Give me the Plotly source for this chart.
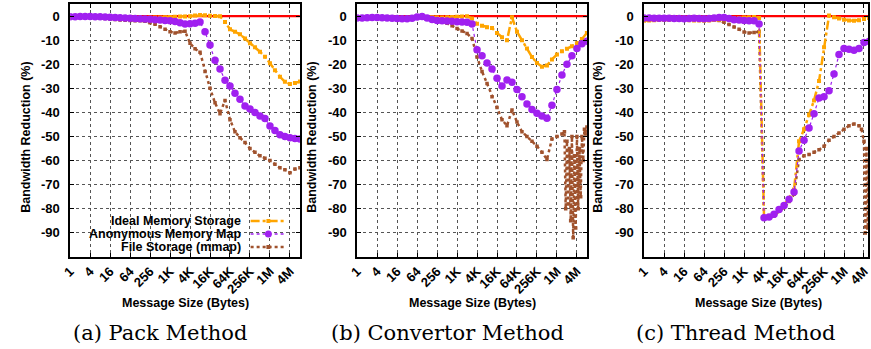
import plotly.graph_objects as go

# ---------------- data (log2 of message size in bytes) ----------------
msg_exp = [0, 0.5, 1, 1.5, 2, 2.5, 3, 3.5, 4, 4.5, 5, 5.5, 6, 6.5, 7, 7.5, 8, 8.5, 9, 9.5,
           10, 10.5, 11, 11.5, 12, 12.5, 13, 13.5, 14, 14.5, 15, 15.5, 16, 16.5, 17, 17.5,
           18, 18.5, 19, 19.5, 20, 20.5, 21, 21.5, 22, 22.5, 23]

pack_ideal = [-0.8, -0.6, -0.5, -0.5, -0.4, -0.5, -0.6, -0.7, -0.8, -0.9,
              -1.0, -1.0, -1.0, -0.9, -0.8, -0.8, -0.7, -0.6, -0.6, -0.5,
              -0.4, -0.3, -0.2, -0.2, -0.1, 0.2, 0.4, 0.3, 0.1, 0.0,
              -0.1, -2.5, -5.5, -6.5, -7.6, -9.3, -11.3, -13.0, -14.8, -16.9,
              -19.6, -22.5, -25.2, -27.3, -28.2, -27.8, -27.2]
pack_anon = [-0.3, -0.3, -0.2, -0.2, -0.2, -0.3, -0.3, -0.4, -0.5, -0.6,
             -0.7, -0.8, -0.9, -1.0, -1.1, -1.2, -1.3, -1.5, -1.6, -1.8,
             -2.0, -2.3, -2.8, -3.3, -3.2, -3.0, -2.5, -6.5, -12.0, -18.3,
             -22.0, -26.6, -29.0, -32.0, -34.5, -37.3, -38.6, -40.0, -41.5, -42.5,
             -45.6, -47.5, -49.3, -50.0, -50.5, -50.8, -51.0]
pack_file = [-0.5, -0.5, -0.4, -0.4, -0.5, -0.6, -0.8, -1.0, -1.2, -1.4,
             -1.6, -1.7, -1.8, -1.9, -2.0, -2.2, -2.8, -3.4, -4.4, -5.5,
             -6.5, -7.0, -6.5, -6.3, -11.3, -13.6, -15.0, -23.0, -30.0, -36.0,
             -40.5, -35.0, -43.0, -48.0, -50.5, -52.5, -55.0, -56.5, -58.0, -59.0,
             -60.0, -61.5, -63.0, -63.8, -65.0, -63.5, -63.0]

conv_ideal = [-0.5, -0.5, -0.5, -0.6, -0.6, -0.7, -0.7, -0.7, -0.8, -0.8,
              -0.8, -0.7, -0.5, -0.3, -0.4, -0.5, -0.6, -0.6, -0.5, -0.4,
              -0.3, -0.2, -0.1, -1.0, -3.2, -4.0, -4.6, -5.0, -7.0, -8.8,
              -10.0, -0.5, -6.5, -10.0, -13.5, -17.0, -19.5, -21.0, -20.5, -18.0,
              -16.0, -14.6, -13.6, -12.5, -11.3, -9.5, -7.0]
conv_anon = [-0.8, -0.8, -0.7, -0.6, -0.6, -0.7, -0.8, -0.9, -1.0, -1.1,
             -1.1, -0.9, -0.4, -0.2, -0.8, -1.4, -1.8, -2.0, -2.1, -2.2,
             -2.4, -2.5, -2.6, -3.3, -14.0, -16.5, -19.5, -22.0, -25.8, -29.0,
             -26.5, -27.5, -30.5, -33.5, -36.5, -38.8, -40.3, -41.5, -42.4, -37.0,
             -30.5, -24.5, -20.0, -16.5, -13.5, -11.5, -10.5]
conv_file_exp = [0, 0.5, 1, 1.5, 2, 2.5, 3, 3.5, 4, 4.5, 5, 5.5, 6, 6.5, 7, 7.5, 8, 8.5, 9, 9.5,
                 10, 10.5, 11, 11.5, 12, 12.5, 13, 13.5, 14, 14.5, 15, 15.5, 16, 16.5, 17, 17.5,
                 18, 18.5, 19, 19.5, 20, 20.5,
                 20.75, 20.875, 21, 21.125, 21.25, 21.375, 21.5, 21.625, 21.75, 21.875,
                 22, 22.125, 22.25, 22.375, 22.5, 22.625, 22.75, 22.875, 23]
conv_file = [-1.0, -1.0, -1.0, -1.1, -1.1, -1.2, -1.2, -1.3, -1.3, -1.4,
             -1.5, -1.3, -0.9, -0.6, -0.9, -1.2, -1.5, -2.2, -3.0, -4.0,
             -5.2, -6.2, -7.2, -9.3, -17.0, -23.0, -28.0, -33.5, -38.0, -43.0,
             -45.5, -39.0, -44.0, -48.0, -50.0, -52.0, -54.0, -56.5, -59.5, -51.0,
             -50.0, -49.0,
             -48, -80, -52, -78, -55, -85, -50, -92, -58, -88,
             -50, -80, -55, -75, -50, -60, -47, -49, -46]

thread_ideal = [-2.0, -1.8, -1.7, -1.6, -1.6, -1.5, -1.5, -1.6, -1.6, -1.7,
                -1.8, -1.8, -1.9, -1.8, -1.6, -1.5, -1.3, -1.2, -1.0, -0.8,
                -0.6, -0.5, -0.4, -0.8, -83.7, -83.2, -82.5, -80.5, -78.5, -75.5,
                -72.0, -52.0, -47.0, -41.0, -35.0, -27.0, -13.0, 0.2, -0.5, -1.0,
                -1.5, -1.8, -1.9, -1.7, -1.2, -0.8, -0.5]
thread_anon = [-0.8, -0.8, -0.9, -0.9, -0.9, -0.9, -1.0, -1.0, -1.1, -1.0,
               -0.9, -1.0, -1.1, -1.0, -0.8, -0.6, -0.6, -1.0, -1.5, -1.6,
               -1.8, -1.9, -2.0, -3.3, -83.7, -83.4, -82.3, -80.3, -78.6, -76.0,
               -73.0, -56.0, -51.5, -46.5, -40.5, -34.0, -33.5, -31.0, -24.0, -16.0,
               -13.5, -13.8, -14.2, -13.5, -11.0, -10.5, -10.0]
thread_file_exp = [0, 0.5, 1, 1.5, 2, 2.5, 3, 3.5, 4, 4.5, 5, 5.5, 6, 6.5, 7, 7.5, 8, 8.5, 9, 9.5,
                   10, 10.5, 11, 11.5, 12, 12.5, 13, 13.5, 14, 14.5, 15, 15.5, 16, 16.5, 17, 17.5,
                   18, 18.5, 19, 19.5, 20, 20.5, 21, 21.5,
                   21.75, 22, 22.125, 22.25, 22.375, 22.5, 22.75, 23]
thread_file = [-1.5, -1.4, -1.3, -1.3, -1.3, -1.2, -1.2, -1.3, -1.3, -1.4,
               -1.5, -1.5, -1.5, -1.5, -1.6, -1.8, -2.6, -3.5, -4.5, -5.5,
               -6.6, -7.0, -6.8, -6.5, -84.0, -83.8, -83.0, -81.0, -79.5, -77.0,
               -74.0, -59.5, -58.0, -57.5, -56.5, -55.5, -54.0, -51.5, -50.0, -48.5,
               -47.0, -45.5, -44.8, -45.5,
               -47, -52, -90, -55, -88, -60, -70, -65]

tick_vals = [1, 4, 16, 64, 256, 1024, 4096, 16384, 65536, 262144, 1048576, 4194304]
tick_text = ["1", "4", "16", "64", "256", "1K", "4K", "16K", "64K", "256K", "1M", "4M"]
y_ticks = [0, -10, -20, -30, -40, -50, -60, -70, -80, -90]
y_tick_text = ["0", "-10", "-20", "-30", "-40", "-50", "-60", "-70", "-80", "-90"]

series_names = ["Ideal Memory Storage", "Anonymous Memory Map", "File Storage (mmap)"]
captions = ["(a) Pack Method", "(b) Convertor Method", "(c) Thread Method"]

panels = [
    (msg_exp, pack_ideal, msg_exp, pack_anon, msg_exp, pack_file),
    (msg_exp, conv_ideal, msg_exp, conv_anon, conv_file_exp, conv_file),
    (msg_exp, thread_ideal, msg_exp, thread_anon, thread_file_exp, thread_file),
]

# ---------------- styling ----------------
W, H = 871, 349
ORANGE = "#FFA500"
PURPLE = "#A020F0"
BROWN = "#A0522D"
SANS = "Liberation Sans"
LOG2 = 0.30102999566

def px_x(p):
    return p / W

def px_y(p):
    return 1 - p / H

x_dom = [(62, 295), (353, 586), (644, 871)]
x_max_exp = [23, 23, 22.4]
y_dom = [px_y(257), px_y(4)]

fig = go.Figure()

for i, (ex1, v1, ex2, v2, ex3, v3) in enumerate(panels):
    xa = "x" if i == 0 else f"x{i+1}"
    ya = "y" if i == 0 else f"y{i+1}"
    fig.add_trace(go.Scatter(x=[1, 2 ** 23], y=[0, 0], mode="lines",
                             line=dict(color="red", width=2.2),
                             xaxis=xa, yaxis=ya, showlegend=False, hoverinfo="skip"))
    fig.add_trace(go.Scatter(x=[2 ** e for e in ex3], y=v3, mode="lines+markers",
                             line=dict(color=BROWN, width=2.5, dash="dot"),
                             marker=dict(symbol="square", size=3.5, color=BROWN),
                             xaxis=xa, yaxis=ya, showlegend=False, name=series_names[2]))
    fig.add_trace(go.Scatter(x=[2 ** e for e in ex1], y=v1, mode="lines+markers",
                             line=dict(color=ORANGE, width=2.5, dash="dashdot"),
                             marker=dict(symbol="square", size=4, color=ORANGE),
                             xaxis=xa, yaxis=ya, showlegend=False, name=series_names[0]))
    fig.add_trace(go.Scatter(x=[2 ** e for e in ex2], y=v2, mode="lines+markers",
                             line=dict(color=PURPLE, width=1.2, dash="dot"),
                             marker=dict(symbol="circle", size=7.5, color=PURPLE),
                             xaxis=xa, yaxis=ya, showlegend=False, name=series_names[1]))

    axis_common = dict(showline=True, linecolor="black", linewidth=1.5, mirror="ticks",
                       ticks="inside", ticklen=4, tickcolor="black",
                       showgrid=True, gridcolor="#555555", gridwidth=1, griddash="dot",
                       zeroline=False, ticklabeloverflow="allow",
                       tickfont=dict(family=SANS, size=13, color="black", weight="bold"))
    x_layout = dict(axis_common, type="log",
                    domain=[px_x(x_dom[i][0]), px_x(x_dom[i][1])],
                    range=[0, x_max_exp[i] * LOG2],
                    tickvals=tick_vals, ticktext=tick_text, tickangle=-45,
                    anchor=ya)
    y_layout = dict(axis_common, domain=y_dom, range=[-100, 5],
                    tickvals=y_ticks, ticktext=y_tick_text,
                    ticklabelstandoff=6, anchor=xa)
    fig.layout[("xaxis" if i == 0 else f"xaxis{i+1}")] = x_layout
    fig.layout[("yaxis" if i == 0 else f"yaxis{i+1}")] = y_layout

# ---------------- text ----------------
ann = []
y_title_x = [17, 307, 597]
cap_x = [153, 445, 737]
for i in range(3):
    ann.append(dict(text="Bandwidth Reduction (%)", x=px_x(y_title_x[i]), y=px_y(137),
                    xref="paper", yref="paper", textangle=-90, showarrow=False,
                    xanchor="center", yanchor="middle",
                    font=dict(family=SANS, size=12.5, color="black", weight="bold")))
    xc = (x_dom[i][0] + (x_dom[i][1] if i < 2 else 876)) / 2
    ann.append(dict(text="Message Size (Bytes)", x=px_x(xc), y=px_y(303),
                    xref="paper", yref="paper", showarrow=False,
                    xanchor="center", yanchor="middle",
                    font=dict(family=SANS, size=12.5, color="black", weight="bold")))
    ann.append(dict(text=captions[i], x=px_x(cap_x[i]), y=px_y(333),
                    xref="paper", yref="paper", showarrow=False,
                    xanchor="center", yanchor="middle",
                    font=dict(family="DejaVu Serif", size=21, color="black")))

# legend (inside panel a, text right-aligned, sample on the right)
leg_y = [221, 234, 247]
leg_col = [ORANGE, PURPLE, BROWN]
leg_dash = ["dashdot", "dot", "dot"]
leg_w = [2.5, 1.5, 2.5]
shapes = []
for j in range(3):
    ann.append(dict(text=series_names[j], x=px_x(237), y=px_y(leg_y[j]),
                    xref="paper", yref="paper", showarrow=False,
                    xanchor="right", yanchor="middle",
                    font=dict(family=SANS, size=12.5, color="black", weight="bold")))
    shapes.append(dict(type="line", xref="paper", yref="paper",
                       x0=px_x(245), x1=px_x(280), y0=px_y(leg_y[j]), y1=px_y(leg_y[j]),
                       line=dict(color=leg_col[j], width=leg_w[j], dash=leg_dash[j])))
    r = 3.5 if j == 1 else 2
    kind = "circle" if j == 1 else "rect"
    shapes.append(dict(type=kind, xref="paper", yref="paper",
                       x0=px_x(263 - r), x1=px_x(263 + r),
                       y0=px_y(leg_y[j] - r), y1=px_y(leg_y[j] + r),
                       fillcolor=leg_col[j], line=dict(width=0)))

fig.update_layout(width=W, height=H, margin=dict(l=0, r=0, t=0, b=0),
                  paper_bgcolor="white", plot_bgcolor="white",
                  showlegend=False, annotations=ann, shapes=shapes)

fig.write_html("out.html", config={"displayModeBar": False},
               post_script="document.body.style.margin='0';")
